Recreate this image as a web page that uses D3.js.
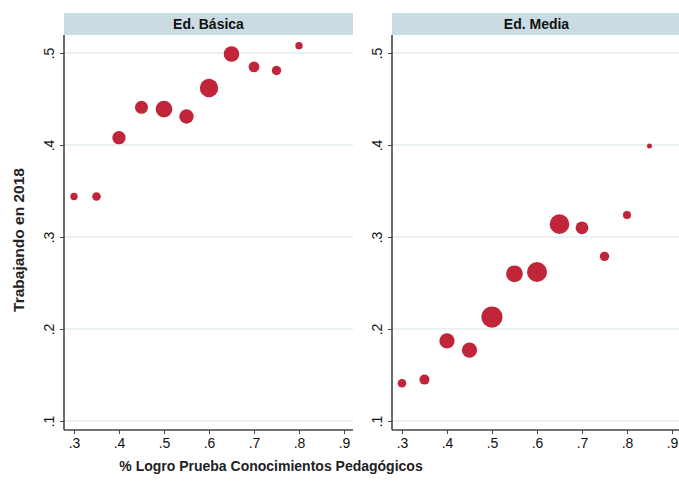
<!DOCTYPE html>
<html>
<head>
<meta charset="utf-8">
<script src="https://cdn.jsdelivr.net/npm/d3@7"></script>
<style>
  body { margin: 0; background: #fff; }
  svg text { font-family: "Liberation Sans", Arial, sans-serif; }
</style>
</head>
<body>
<svg id="chart"></svg>
<script>
const panels = ["Ed. Básica", "Ed. Media"];
const logroBasica = [.30, .35, .40, .45, .50, .55, .60, .65, .70, .75, .80];
const trabajaBasica = [.344, .344, .408, .441, .439, .431, .462, .499, .485, .481, .508];
const pesoBasica = [3.7, 4.3, 6.7, 6.5, 8.3, 7.2, 9.2, 7.8, 5.4, 4.7, 3.7];
const logroMedia = [.30, .35, .40, .45, .50, .55, .60, .65, .70, .75, .80, .85];
const trabajaMedia = [.141, .145, .187, .177, .213, .260, .262, .314, .310, .279, .324, .399];
const pesoMedia = [4.3, 5, 7.6, 7.6, 10.6, 8.4, 10, 9.8, 6.4, 4.7, 4, 2.5];
const xTicks = [.3, .4, .5, .6, .7, .8, .9];
const yTicks = [.1, .2, .3, .4, .5];

const W = 679, H = 481;
const svg = d3.select("#chart").attr("width", W).attr("height", H);

const panelW = 289, plotTop = 35, plotBottom = 430, stripH = 22;
const offsets = [64, 392];
const fmt = d => String(d).replace(/^0/, "");

const x = d3.scaleLinear().domain([.2778, .92]).range([0, panelW]);
const y = d3.scaleLinear().domain([.0902, .5196]).range([plotBottom, plotTop]);

const series = [
  logroBasica.map((d, i) => ({x: d, y: trabajaBasica[i], r: pesoBasica[i]})),
  logroMedia.map((d, i) => ({x: d, y: trabajaMedia[i], r: pesoMedia[i]}))
];

panels.forEach((name, p) => {
  let g = svg.append("g").attr("transform", `translate(${offsets[p]},0)`);

  // strip title
  g.append("rect")
    .attr("x", 0).attr("y", plotTop - stripH)
    .attr("width", panelW).attr("height", stripH)
    .attr("fill", "#cadbe3");
  g.append("text")
    .attr("x", panelW / 2).attr("y", plotTop - stripH / 2)
    .attr("dy", "0.36em")
    .attr("text-anchor", "middle")
    .attr("font-size", "14px")
    .attr("font-weight", "bold")
    .attr("fill", "#111")
    .text(name);

  // grid
  g.selectAll(".grid")
    .data(yTicks)
    .enter()
    .append("line")
    .attr("x1", 0).attr("x2", panelW)
    .attr("y1", d => y(d)).attr("y2", d => y(d))
    .attr("stroke", "#e3edf1")
    .attr("stroke-width", 1.5);

  // y axis
  let ya = g.append("g")
    .call(d3.axisLeft(y).tickValues(yTicks).tickFormat(fmt).tickSize(4).tickPadding(6));
  ya.select(".domain").attr("stroke", "#444").attr("stroke-width", 1.6)
    .attr("d", `M0,${plotTop}V${plotBottom}`);
  ya.selectAll(".tick line").attr("stroke", "#444");
  ya.selectAll(".tick text")
    .attr("font-size", "14px")
    .attr("fill", "#111")
    .attr("text-anchor", "middle")
    .attr("transform", "rotate(-90)")
    .attr("x", 0)
    .attr("dy", 0)
    .attr("y", -10);

  // x axis
  let xa = g.append("g")
    .attr("transform", `translate(0,${plotBottom})`)
    .call(d3.axisBottom(x).tickValues(xTicks).tickFormat(fmt).tickSize(4).tickPadding(4));
  xa.select(".domain").attr("stroke", "#444").attr("stroke-width", 1.6)
    .attr("d", `M0,0H${panelW}`);
  xa.selectAll(".tick line").attr("stroke", "#444");
  xa.selectAll(".tick text")
    .attr("font-size", "14px")
    .attr("fill", "#111");

  // dots
  g.selectAll(".dot")
    .data(series[p])
    .enter()
    .append("circle")
    .attr("cx", d => x(d.x))
    .attr("cy", d => y(d.y))
    .attr("r", d => d.r)
    .attr("fill", "#c0253a");
});

svg.append("text")
  .attr("transform", `translate(24,240) rotate(-90)`)
  .attr("text-anchor", "middle")
  .attr("font-size", "15.5px")
  .attr("font-weight", "bold")
  .attr("fill", "#222")
  .text("Trabajando en 2018");

svg.append("text")
  .attr("x", 271).attr("y", 471)
  .attr("text-anchor", "middle")
  .attr("font-size", "14px")
  .attr("font-weight", "bold")
  .attr("fill", "#222")
  .text("% Logro Prueba Conocimientos Pedagógicos");
</script>
</body>
</html>
